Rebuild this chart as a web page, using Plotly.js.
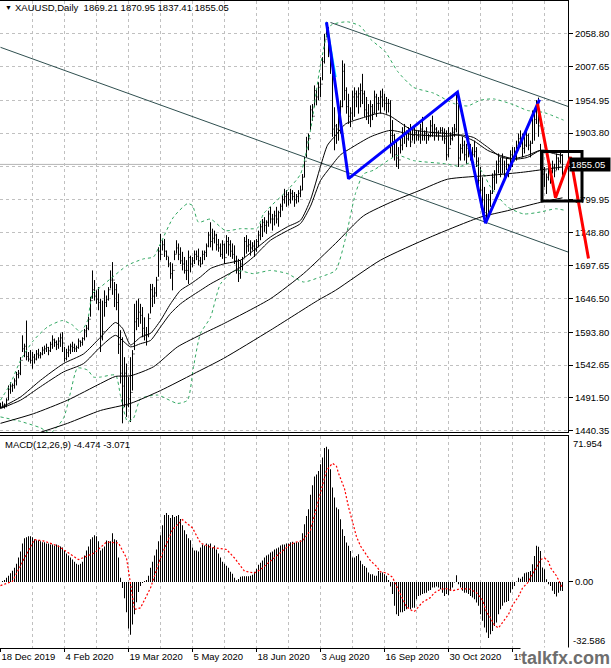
<!DOCTYPE html>
<html><head><meta charset="utf-8">
<script src="https://cdn.plot.ly/plotly-3.0.1.min.js"></script>
<style>html,body{margin:0;padding:0;background:#fff;overflow:hidden}#chart{width:611px;height:668px}</style>
</head><body><div id="chart"></div>
<script>
// ---------------- data ----------------
const symbolName = 'XAUUSD';
const timeframe = 'Daily';
const dateLabels = ['18 Dec 2019','4 Feb 2020','19 Mar 2020','5 May 2020','18 Jun 2020','3 Aug 2020','16 Sep 2020','30 Oct 2020','15 Dec 2020'];
const dateLabelBars = [0,32,64,96,128,160,192,224,256];

const high = [
1484,1486,1483,1491,1511,1516,1514,1522,1532,1535,
1555,1589,1576,1612,1563,1566,1563,1560,1566,1568,
1563,1571,1573,1576,1571,1579,1589,1584,1581,1586,
1592,1594,1571,1568,1573,1576,1579,1576,1573,1584,
1581,1586,1599,1605,1618,1649,1690,1675,1659,1664,
1646,1643,1659,1651,1664,1690,1703,1672,1669,1654,
1597,1586,1555,1545,1524,1555,1566,1638,1643,1646,
1638,1633,1617,1602,1623,1669,1669,1664,1680,1726,
1747,1737,1739,1721,1711,1703,1701,1721,1737,1732,
1726,1719,1711,1706,1721,1713,1711,1721,1721,1724,
1711,1721,1721,1732,1750,1765,1755,1752,1747,1739,
1732,1737,1732,1745,1742,1737,1732,1729,1713,1708,
1706,1711,1742,1745,1739,1737,1734,1737,1739,1752,
1763,1770,1773,1768,1783,1789,1778,1783,1789,1783,
1794,1807,1817,1815,1812,1817,1815,1812,1809,1815,
1822,1840,1867,1898,1903,1947,1949,1978,1973,1983,
1991,2022,2058,2077,2069,2038,2012,1944,1918,1944,
1955,2017,2012,1975,1965,1944,1970,1975,1970,1975,
1981,1996,1970,1960,1949,1955,1949,1970,1965,1960,
1970,1973,1965,1960,1957,1955,1924,1903,1892,1882,
1898,1913,1918,1908,1913,1918,1911,1913,1908,1908,
1918,1929,1908,1913,1903,1924,1931,1918,1913,1908,
1913,1913,1911,1908,1913,1905,1913,1918,1965,1949,
1887,1898,1892,1887,1898,1887,1882,1892,1882,1866,
1851,1835,1820,1809,1809,1815,1841,1846,1861,1872,
1866,1872,1861,1866,1856,1877,1882,1882,1892,1903,
1908,1903,1898,1913,1903,1892,1939,1934,1955,1959,
1887,1877,1851,1841,1861,1856,1861,1856,1872,1866,
1877,1870.95];
const low = [
1475,1476,1475,1477,1488,1498,1501,1506,1511,1522,
1527,1563,1555,1550,1548,1545,1537,1545,1550,1553,
1553,1558,1560,1563,1558,1563,1568,1571,1566,1568,
1571,1563,1548,1550,1555,1560,1563,1563,1563,1568,
1571,1573,1581,1586,1597,1618,1646,1643,1638,1628,
1563,1581,1618,1633,1643,1662,1652,1633,1628,1560,
1514,1452,1477,1462,1477,1454,1503,1566,1597,1602,
1607,1586,1581,1573,1586,1623,1633,1638,1649,1680,
1706,1721,1711,1706,1695,1677,1659,1706,1716,1706,
1700,1690,1685,1675,1669,1687,1695,1700,1706,1698,
1695,1700,1706,1711,1726,1726,1721,1732,1721,1719,
1711,1708,1700,1716,1713,1711,1708,1700,1685,1672,
1677,1690,1711,1716,1719,1713,1721,1711,1719,1726,
1737,1742,1750,1747,1758,1763,1752,1760,1763,1758,
1773,1783,1794,1789,1791,1794,1799,1789,1794,1796,
1804,1815,1835,1866,1877,1908,1923,1944,1947,1955,
1960,1986,2012,2053,2022,1996,1898,1877,1887,1892,
1903,1944,1955,1934,1918,1913,1924,1929,1944,1934,
1944,1949,1929,1924,1918,1913,1924,1934,1929,1939,
1934,1944,1939,1934,1936,1872,1866,1861,1851,1848,
1872,1877,1887,1882,1892,1882,1892,1887,1892,1892,
1887,1892,1892,1887,1892,1898,1898,1892,1898,1892,
1903,1892,1887,1861,1866,1885,1892,1898,1905,1851,
1861,1872,1861,1856,1866,1861,1856,1866,1851,1820,
1809,1794,1773,1763,1778,1789,1809,1815,1825,1841,
1835,1841,1830,1846,1835,1846,1851,1861,1861,1877,
1882,1866,1872,1882,1877,1866,1887,1892,1918,1898,
1846,1815,1820,1809,1830,1825,1841,1835,1846,1846,
1856,1837.41];
const close = [
1478,1480,1481,1488,1505,1510,1511,1518,1528,1530,
1550,1568,1572,1556,1552,1550,1555,1552,1560,1558,
1560,1566,1568,1570,1565,1575,1582,1578,1575,1580,
1585,1577,1553,1562,1566,1572,1570,1568,1570,1580,
1578,1584,1596,1600,1614,1643,1660,1650,1645,1640,
1585,1595,1640,1645,1660,1675,1675,1660,1640,1575,
1530,1510,1530,1480,1490,1500,1560,1610,1615,1625,
1620,1600,1590,1590,1615,1660,1650,1655,1675,1720,
1715,1730,1720,1712,1700,1685,1690,1715,1725,1715,
1705,1700,1690,1690,1710,1700,1705,1715,1712,1705,
1700,1715,1718,1728,1745,1735,1740,1745,1730,1725,
1715,1730,1710,1735,1730,1720,1715,1705,1690,1685,
1700,1708,1735,1728,1730,1725,1728,1722,1735,1745,
1758,1765,1760,1765,1778,1770,1770,1775,1770,1780,
1790,1800,1805,1808,1800,1810,1805,1800,1805,1810,
1815,1835,1860,1890,1895,1940,1930,1970,1960,1975,
1980,2015,2050,2062,2035,2025,1910,1915,1910,1935,
1945,2000,1970,1945,1930,1935,1960,1965,1960,1965,
1970,1965,1940,1935,1930,1945,1935,1960,1950,1950,
1960,1955,1950,1950,1950,1900,1900,1870,1865,1862,
1885,1900,1905,1895,1905,1890,1900,1905,1900,1898,
1910,1900,1903,1900,1898,1915,1905,1910,1905,1900,
1908,1905,1895,1870,1880,1895,1905,1910,1950,1865,
1880,1885,1870,1880,1885,1870,1870,1875,1860,1830,
1815,1800,1780,1778,1800,1810,1835,1840,1855,1860,
1840,1865,1840,1855,1850,1870,1860,1875,1885,1895,
1890,1880,1885,1900,1885,1888,1935,1925,1940,1915,
1850,1840,1845,1835,1850,1845,1850,1845,1865,1860,
1869.21,1855.05];

const macd = [
0,0.5,1,2,3,4.3,5.5,7,9,12,15,19,21.5,22,22.5,22.5,
22,21,20.5,20.5,20,19.5,19.5,19,19,18.5,18.5,18,18.5,18,17.5,17,
15.5,14,13,12,11,10,9,8.5,
9,10,13,15.5,17.5,21,22,23,22.5,
20,15.5,16.5,17.5,20.4,20.2,20,24,21,20.5,
12,2,-3,-8,-15,-23,-26,-21,-16,-10,-5,-2,-0.5,0.5,
1,3,7,10,13,16,20,23,28,33,
34,33,31.5,33,32,32.5,33,31,28,25.5,23.5,21.5,20.5,
17,15.5,15.5,15,17,18.5,18,19,18.5,19,17,18,16,
14,12,10,9,8,7,5,4,2,0.8,1.5,2.5,
2.8,2.8,2.8,2.8,3,3.5,5,6.5,8.5,9.5,10.5,12,13,13.5,14.5,15,16,16.5,17,18,18.5,18.5,19,19,
19.5,19.8,19.3,19.5,19.5,20.5,24,28.4,32.5,35.8,
43,47.7,52,53,54.7,58,61.3,66,66.6,65.4,
55.5,46.5,41.6,36.7,35.8,30.9,26,22.7,19.4,17.8,
15.3,12,12,12.8,13.6,10.4,8.7,7.9,7,4.6,
3.8,3.8,3,3,5.4,4.6,4.6,3.8,3,1,
-2.3,-6,-11.8,-16,-16.8,-15,-15,-14.3,-13.5,-12.7,
-13.5,-12.7,-12.7,-8.5,-6.9,-6.6,-6,-5.6,-5.3,-4.4,
-4,-2.8,-2.8,-2.3,-2.8,-3.6,-5.3,-6.9,-6,-6.6,
-4.4,-2.8,-0.3,3.3,-1.2,-2.8,-4.4,-5.3,-5.3,-6,
-6.9,-7.7,-8.5,-10.2,-11.8,-16,-19.2,-22.5,-25,-27.6,
-25.8,-24.2,-21.7,-20,-16,-13.5,-11.8,-10.2,-9.9,-9.4,
-5.3,-3.6,-2,0.2,2.1,1.6,2.6,4.3,4.6,4.9,
5.4,8.7,12.8,17.8,17.4,15.3,7.1,6.2,1.3,-1.2,
-2,-4.4,-6,-7.2,-5.3,-4.4,-4.474];

const signalBars = [0,6,12,17,22,29,39,47,53,59,63,67,70,75,80,86,91,96,100,105,113,117,122,127,130,137,145,148,151,155,157,160,163,166,168,169,172,174,176,178,180,183,185,188,190,193,196,198,200,202,203,206,207,211,215,217,220,223,226,229,231,235,238,241,243,245,247,249,251,254,256,259,261,264,265,268,270,272,274,275,278,280,281];
const signalValues = [-1.8,0.3,11.8,20.9,20.1,17.6,11,14.3,19.7,19.2,11.8,-13.6,-12.8,-3,11.8,25.8,30.7,26.6,19.2,17.1,16,11.8,5.3,4.4,6.1,11.8,18.6,19.7,20.2,25.5,33,45,55,58.5,57,53.6,46,37,29,22.3,17.7,13.3,10.4,7.7,5,4.4,2.3,-2,-6,-10.5,-12.3,-14.3,-14.5,-10,-7.7,-5.3,-3.6,-3.3,-4.4,-3.6,-3.3,-3.6,-5.3,-9,-14.8,-17.8,-21.4,-22.7,-20,-16,-11.5,-7.2,-3,0,2.5,6.9,11,11.8,10,7,3,-1,-3.071];

const ma1Bars = [0,10,20,31.5,41.5,50,57.5,61,65,70,75,80,85,90,95,100,105,111.5,120,126.5,135,143.5,150,155,160,163.5,167.5,172.5,181.5,190,195,205,215,223.5,230,236.5,243.5,250,256.5,263.5,270,276.5,281];
const ma1Values = [1476,1493,1519,1545,1560,1586,1609,1600,1574,1586,1592,1612,1638,1659,1669,1680,1693,1700,1706,1721,1742,1758,1768,1800,1852,1885,1900,1918,1928,1935,1930,1910,1905,1903,1900,1892,1877,1869,1864,1869,1877,1872,1869];
const ma2Bars = [0,10,20,31.5,41.5,50,57.5,65,70,75,80,85,90,95,100,105,111.5,120,126.5,135,143.5,150,155,160,165,170,175,185,195,205,222.5,230,236.5,243.5,250,256.5,263.5,270,276.5,281];
const ma2Values = [1475,1488,1509,1532,1545,1571,1589,1571,1576,1581,1602,1623,1638,1649,1659,1669,1680,1695,1711,1737,1752,1763,1790,1830,1851,1870,1880,1898,1908,1902,1899,1901,1897,1882,1867,1863,1866,1877,1876,1874];
const ma3Bars = [0,16.5,33.5,50,57.5,65,76.5,88.5,101.5,111.5,135,151.5,167.5,181.5,196.5,210,223.5,245,261.5,273.5,281];
const ma3Values = [1452,1467,1488,1514,1525,1526,1540,1571,1592,1607,1646,1685,1732,1775,1798,1815,1832,1838,1843,1848,1851];
const ma4Bars = [20,33.5,50,65,80,96.5,111.5,135,158.5,167.5,190,215,240,253.5,270,281];
const ma4Values = [1438,1452,1472,1483,1503,1529,1553,1597,1643,1659,1706,1742,1773,1783,1796,1803];

const bandUpBars = [0,5,10,16.5,23.5,31,36,40,43.5,46,50,55,63.5,71.5,76.5,80,86.5,93.5,96,99,105,112.5,120,128.5,131.5,143.5,150,155,160,165,173.5,180,185,192.5,198.5,206.5,216.5,226.5,233.5,240,246.5,256.5,263.5,271.5,281.5];
const bandUpValues = [1488,1514,1550,1581,1602,1612,1605,1594,1612,1654,1664,1677,1698,1708,1711,1732,1773,1794,1791,1765,1770,1752,1755,1756,1778,1815,1840,1908,2010,2071,2077,2070,2050,2030,2000,1975,1966,1950,1946,1955,1957,1948,1939,1936,1924];
const bandLowBars = [0,10,20,25,31.5,35,38.5,43.5,46.5,50,57.5,60,63.5,66.5,70,78.5,88.5,93.5,96.5,100,105,110,117.5,126.5,135,143.5,151.5,160,167.5,172.5,177.5,181.5,186.5,198.5,206.5,222.5,230,236.5,241.5,245,253.5,261.5,270,277.5,281.5];
const bandLowValues = [1462,1455,1445,1437,1460,1500,1538,1535,1524,1524,1527,1495,1455,1460,1490,1496,1483,1488,1540,1592,1617,1669,1690,1685,1690,1685,1672,1680,1690,1740,1810,1840,1846,1869,1861,1856,1852,1859,1840,1820,1789,1778,1781,1786,1784];

const trendLowBars = [0,284];
const trendLowValues = [2037.3,1718.4];
const trendUpBars = [165,284];
const trendUpValues = [2076,1945];
const zigBlueBars = [163,174,228.5,242.5,269.5];
const zigBlueValues = [2076.4,1832.8,1967.5,1763.7,1956];
const zigCyanBars = [162.9,167.6];
const zigCyanValues = [2076,1991];
const zigRedBars = [268.5,277.5,285,294];
const zigRedValues = [1949.5,1803,1866.4,1708.4];
const boxBars = [270.75,290.75];
const boxValues = [1798,1875.3];

const priceTicks = [2058.80,2007.65,1954.95,1903.80,1851.90,1799.95,1748.80,1697.65,1646.50,1593.80,1542.65,1491.50,1440.35];
const priceTickText = ['2058.80','2007.65','1954.95','1903.80','','1799.95','1748.80','1697.65','1646.50','1593.80','1542.65','1491.50','1440.35'];
const priceRange = [1438.5,2109.4];
const macdRange = [-32.586,71.954];

// ---------------- build ----------------
const n = close.length;
const bars = Array.from({length:n},(_,i)=>i);
const open = close.map((c,i)=> i===0 ? c : close[i-1]);
const last = n-1;

const FONT = 'Liberation Sans, Arial, sans-serif';
const tickFont = {family:FONT, size:9.5, color:'#000'};
const GRID = '#c0c0c0';
const DASH = '3px,3px';
const BB = '#2fa760';

const xDomain = [0, 568/611];
const mainDomain = [(648-432)/647, 1];
const macdDomain = [0, (648-436)/647];
const xRange = [-0.25, 283.75];

function line(x,y,color,width,extra){return Object.assign({type:'scatter',mode:'lines',x:x,y:y,hoverinfo:'skip',line:{color:color,width:width}},extra||{});}
const smooth = (c,d)=>({line:{color:c,width:1,shape:'spline',smoothing:0.6,dash:d||'solid'}});

const traces = [
  line(trendLowBars,trendLowValues,'#2f4f4f',1),
  line(trendUpBars,trendUpValues,'#2f4f4f',1),
  line(bandUpBars,bandUpValues,BB,1,smooth(BB,DASH)),
  line(bandLowBars,bandLowValues,BB,1,smooth(BB,DASH)),
  line(ma4Bars,ma4Values,'#000',1,smooth('#000')),
  line(ma3Bars,ma3Values,'#000',1,smooth('#000')),
  line(ma2Bars,ma2Values,'#000',1,smooth('#000')),
  line(ma1Bars,ma1Values,'#000',1,smooth('#000')),
  {type:'ohlc', x:bars, open:open, high:high, low:low, close:close, xaxis:'x', yaxis:'y',
   increasing:{line:{color:'#000',width:1}}, decreasing:{line:{color:'#000',width:1}},
   tickwidth:0.4, hoverinfo:'skip'},
  line(zigCyanBars,zigCyanValues,'#00e5ff',2),
  line(zigBlueBars,zigBlueValues,'#0000ff',3),
  line(zigRedBars,zigRedValues,'#ff0000',3,{xaxis:'x3',yaxis:'y3'}),
  {type:'bar', x:bars, y:macd, xaxis:'x2', yaxis:'y2', width:0.5, marker:{color:'#000',line:{width:0}}, hoverinfo:'skip'},
  line(signalBars,signalValues,'#ff0000',1.2,{xaxis:'x2',yaxis:'y2',line:{color:'#ff0000',width:1.2,dash:'2px,2px'}})
];

const headerText = symbolName+','+timeframe+'\u00a0\u00a0'+open[last].toFixed(2)+' '+high[last].toFixed(2)+' '+low[last].toFixed(2)+' '+close[last].toFixed(2);
const macdText = 'MACD(12,26,9) '+macd[last].toFixed(3)+' '+signalValues[signalValues.length-1].toFixed(3);

const layout = {
  width:611, height:668,
  margin:{l:0,r:0,t:1,b:20,pad:0},
  paper_bgcolor:'#fff', plot_bgcolor:'rgba(0,0,0,0)',
  showlegend:false, hovermode:false,
  font:{family:FONT,size:9.5,color:'#000'},
  xaxis:{domain:xDomain, range:xRange, anchor:'y', tickmode:'array', tickvals:dateLabelBars, showticklabels:false, ticks:'',
    showgrid:true, gridcolor:GRID, gridwidth:1, griddash:DASH,
    minor:{tickmode:'linear', tick0:0, dtick:16, showgrid:true, gridcolor:GRID, gridwidth:1, griddash:DASH, ticks:''},
    showline:true, linecolor:'#000', linewidth:1, mirror:true, zeroline:false, rangeslider:{visible:false}, fixedrange:true},
  xaxis2:{domain:xDomain, range:xRange, anchor:'y2', tickmode:'array', tickvals:dateLabelBars, ticktext:dateLabels,
    ticklabelposition:'outside right', ticks:'outside', ticklen:3, tickcolor:'#000', tickfont:tickFont,
    showgrid:true, gridcolor:GRID, gridwidth:1, griddash:DASH,
    minor:{tickmode:'linear', tick0:0, dtick:16, showgrid:true, gridcolor:GRID, gridwidth:1, griddash:DASH, ticks:''},
    showline:true, linecolor:'#000', linewidth:1, mirror:true, zeroline:false, fixedrange:true},
  xaxis3:{domain:[0,1], range:[xRange[0], xRange[0]+611/2], anchor:'y3', visible:false, fixedrange:true},
  yaxis:{domain:mainDomain, range:priceRange, side:'right', anchor:'x', tickmode:'array', tickvals:priceTicks, ticktext:priceTickText,
    ticks:'outside', ticklen:4, tickcolor:'#000', tickfont:tickFont,
    showgrid:true, gridcolor:GRID, gridwidth:1, griddash:DASH,
    showline:true, linecolor:'#000', linewidth:1, zeroline:false, fixedrange:true},
  yaxis2:{domain:macdDomain, range:macdRange, side:'right', anchor:'x2', tickmode:'array', tickvals:[0], ticktext:['0.00'],
    ticks:'outside', ticklen:4, tickcolor:'#000', tickfont:tickFont, showgrid:false,
    showline:true, linecolor:'#000', linewidth:1, zeroline:false, fixedrange:true},
  yaxis3:{domain:mainDomain, range:priceRange, anchor:'x3', visible:false, fixedrange:true},
  shapes:[
    {type:'line', xref:'x domain', x0:0, x1:1, yref:'y', y0:close[last], y1:close[last], line:{color:'#b4b4b4',width:1}, layer:'below'},
    {type:'rect', xref:'x3', yref:'y3', x0:boxBars[0], x1:boxBars[1], y0:boxValues[0], y1:boxValues[1], line:{color:'#000',width:3}, fillcolor:'rgba(0,0,0,0)'}
  ],
  annotations:[
    {xref:'paper', yref:'paper', x:3/611, y:(648-8)/647, xanchor:'left', yanchor:'middle', text:'\u25BC', showarrow:false, font:{family:FONT,size:7,color:'#000'}},
    {xref:'paper', yref:'paper', x:13/611, y:(648-8)/647, xanchor:'left', yanchor:'middle', text:headerText, showarrow:false, font:{family:FONT,size:9.5,color:'#000'}},
    {xref:'paper', yref:'paper', x:3/611, y:(648-444)/647, xanchor:'left', yanchor:'middle', text:macdText, showarrow:false, font:{family:FONT,size:9.5,color:'#000'}},
    {xref:'paper', yref:'y', x:1, y:close[last], xanchor:'right', yanchor:'middle', text:close[last].toFixed(2), showarrow:false,
      bgcolor:'#000', borderpad:1, width:38, align:'left', font:{family:FONT,size:9.5,color:'#fff'}},
    {xref:'paper', yref:'y2', x:571/611, y:macdRange[1], xanchor:'left', yanchor:'top', text:macdRange[1].toFixed(3), showarrow:false, font:tickFont},
    {xref:'paper', yref:'y2', x:571/611, y:macdRange[0], xanchor:'left', yanchor:'bottom', text:macdRange[0].toFixed(3), showarrow:false, font:tickFont},
    {xref:'paper', yref:'paper', x:1, y:(648-658)/647, xanchor:'right', yanchor:'middle', text:'<b>talkfx.com</b>', showarrow:false,
      bgcolor:'#fff', borderpad:0, font:{family:FONT,size:18,color:'#6e6e6e'}}
  ]
};

Plotly.newPlot('chart', traces, layout, {staticPlot:true, displayModeBar:false});
</script>
</body></html>
